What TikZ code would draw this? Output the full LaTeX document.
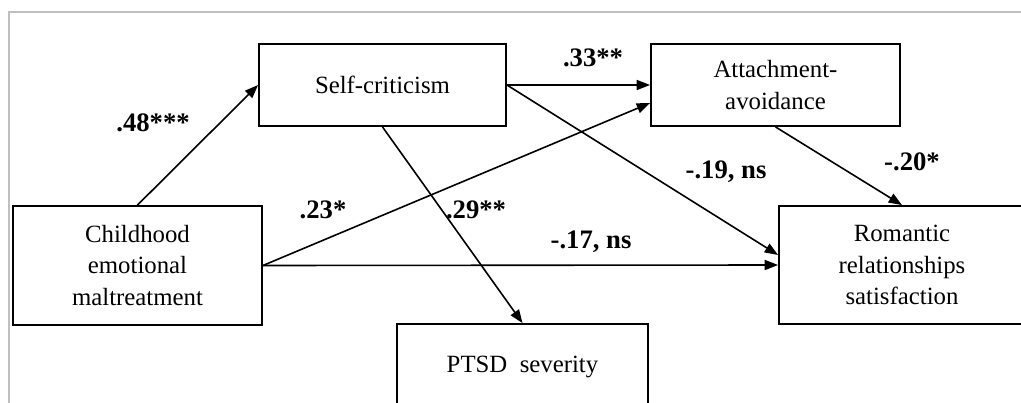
\documentclass[tikz,border=0pt]{standalone}
\usepackage{fontspec}
\setmainfont{Liberation Serif}
\usetikzlibrary{arrows.meta}
\begin{document}
\begin{tikzpicture}[x=0.75pt, y=-0.75pt, >={Triangle[length=10pt,width=7.5pt]},
  box/.style={draw, line width=1.4pt, align=center, inner sep=0pt,
    font=\fontsize{18.6}{23.6}\selectfont},
  coef/.style={font=\fontsize{20}{24}\selectfont\bfseries},
  link/.style={->, line width=1.2pt}]
  \useasboundingbox (0,0) rectangle (1021,403);
  \clip (0,0) rectangle (1021,403);

  % frame
  \draw[line width=1.2pt, black!25] (9,403) -- (9,12) -- (1021,12);

  % variables
  \node[box, minimum width=186.75pt, minimum height=89.25pt] (child) at (137.5,265.5) {Childhood\\emotional\\maltreatment};
  \node[box, minimum width=185.25pt, minimum height=61.5pt] (self) at (382.5,85) {Self-criticism};
  \node[box, minimum width=186.75pt, minimum height=61.5pt] (attach) at (775.5,85) {Attachment-\\avoidance};
  \node[box, minimum width=184.5pt, minimum height=88.5pt] (rom) at (902,265) {Romantic\\relationships\\satisfaction};
  \node[box, minimum width=188.25pt, minimum height=64.5pt] (ptsd) at (522.5,367) {PTSD\ \ severity};

  % paths
  \draw[link] (child.north) -- (self.west);
  \draw[link] (self.east) -- (attach.west);
  \draw[link] (child.east) -- ([yshift=-13.5pt]attach.west);
  \draw[link] (self.east) -- ([yshift=7.5pt]rom.west);
  \draw[link] (child.east) -- (rom.west);
  \draw[link] (self.south) -- (ptsd.north);
  \draw[link] (attach.south) -- (rom.north);

  % coefficients
  \node[coef] (c1) at (153,123) {.48***};
  \node[coef] (c2) at (593,58) {.33**};
  \node[coef] (c3) at (323,210) {.23*};
  \node[coef] (c4) at (476,210) {.29**};
  \node[coef] (c5) at (726,172) {-.19, ns};
  \node[coef] (c6) at (912,162) {-.20*};
  \node[coef] (c7) at (591,242) {-.17, ns};
\end{tikzpicture}
\end{document}
